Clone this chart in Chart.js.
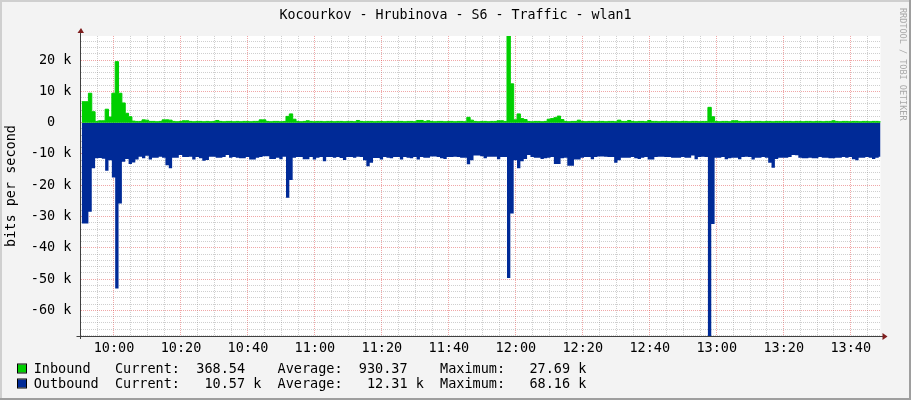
<!DOCTYPE html>
<html lang="en">
<head>
<meta charset="UTF-8">
<title>Kocourkov - Hrubinova - S6 - Traffic - wlan1</title>
<script src="https://cdn.jsdelivr.net/npm/chart.js@4.4.0/dist/chart.umd.min.js"></script>
<style>
    html, body { margin: 0; padding: 0; background: #f3f3f3; }
    canvas { display: block; }
</style>
</head>
<body>
<canvas id="traffic" width="911" height="400"></canvas>
<script>
const graphTitle = 'Kocourkov - Hrubinova - S6 - Traffic - wlan1';
const yAxisTitle = 'bits per second';
const watermark = 'RRDTOOL / TOBI OETIKER';

// graph starts 9:50, one sample per minute, first sample ends 9:50:22
const startHour = 9, startMinute = 50;
const firstSampleEnd = 0.36;
const stepMinutes = 1;
const rangeMinutes = 238.9;

// inbound traffic, kbit/s
const inboundK = [
    6.7, 6.7, 9.4, 3.5, 0.4, 0.6, 0.6, 4.3, 1.8, 9.4,
    19.5, 9.4, 6.3, 3.0, 1.9, 0.5, 0.4, 0.4, 0.9, 0.8,
    0.4, 0.4, 0.3, 0.4, 0.9, 0.9, 0.8, 0.4, 0.3, 0.4,
    0.6, 0.6, 0.4, 0.3, 0.4, 0.4, 0.3, 0.4, 0.3, 0.4,
    0.7, 0.4, 0.3, 0.4, 0.4, 0.3, 0.4, 0.3, 0.4, 0.4,
    0.3, 0.4, 0.4, 0.9, 0.9, 0.4, 0.3, 0.4, 0.4, 0.3,
    0.4, 2.0, 2.8, 1.1, 0.4, 0.3, 0.4, 0.6, 0.4, 0.3,
    0.4, 0.4, 0.3, 0.4, 0.4, 0.3, 0.4, 0.4, 0.3, 0.4,
    0.4, 0.3, 0.7, 0.4, 0.3, 0.4, 0.4, 0.3, 0.4, 0.4,
    0.3, 0.4, 0.4, 0.3, 0.4, 0.4, 0.3, 0.4, 0.4, 0.3,
    0.7, 0.7, 0.4, 0.6, 0.4, 0.3, 0.4, 0.4, 0.3, 0.4,
    0.4, 0.3, 0.4, 0.4, 0.3, 1.7, 0.8, 0.4, 0.3, 0.4,
    0.4, 0.3, 0.4, 0.4, 0.6, 0.6, 0.4, 27.69, 12.4, 0.9,
    2.8, 1.3, 1.0, 0.4, 0.3, 0.4, 0.4, 0.3, 0.4, 1.1,
    1.3, 1.6, 2.1, 1.0, 0.4, 0.3, 0.4, 0.4, 0.8, 0.4,
    0.3, 0.4, 0.4, 0.3, 0.4, 0.4, 0.3, 0.4, 0.4, 0.3,
    0.8, 0.4, 0.4, 0.7, 0.4, 0.3, 0.4, 0.4, 0.3, 0.7,
    0.4, 0.4, 0.3, 0.4, 0.4, 0.3, 0.4, 0.4, 0.3, 0.4,
    0.4, 0.3, 0.4, 0.4, 0.3, 0.4, 0.4, 4.9, 1.9, 0.4,
    0.3, 0.4, 0.4, 0.3, 0.6, 0.6, 0.4, 0.3, 0.4, 0.4,
    0.3, 0.4, 0.4, 0.3, 0.4, 0.4, 0.3, 0.4, 0.4, 0.3,
    0.4, 0.4, 0.3, 0.4, 0.4, 0.3, 0.4, 0.4, 0.3, 0.4,
    0.4, 0.3, 0.4, 0.4, 0.6, 0.4, 0.3, 0.4, 0.4, 0.3,
    0.4, 0.4, 0.3, 0.4, 0.4, 0.3, 0.4, 0.4, 0.3, 0.37
];

// outbound traffic, kbit/s (drawn below zero)
const outboundK = [
    32.2, 32.2, 28.5, 14.6, 11.4, 11.3, 11.5, 15.4, 12.0, 17.5,
    53.0, 25.8, 12.5, 11.6, 13.2, 12.7, 11.8, 10.9, 11.4, 10.6,
    11.8, 11.2, 11.2, 10.9, 11.2, 13.6, 14.6, 11.2, 11.2, 10.3,
    11.0, 11.0, 10.9, 11.8, 11.0, 11.4, 12.2, 11.9, 10.9, 10.9,
    11.2, 11.2, 11.0, 10.3, 11.2, 11.0, 11.2, 11.4, 11.4, 11.0,
    11.8, 11.8, 11.2, 11.0, 10.7, 10.7, 11.6, 11.6, 11.2, 11.7,
    10.9, 24.0, 18.3, 11.2, 11.0, 11.0, 11.7, 11.7, 11.0, 11.8,
    11.2, 11.0, 12.3, 11.0, 11.0, 11.2, 11.0, 11.3, 11.9, 11.0,
    11.0, 11.2, 10.9, 11.0, 12.0, 13.9, 12.8, 11.3, 11.3, 11.8,
    11.0, 11.2, 11.4, 11.0, 11.0, 11.8, 11.0, 11.2, 11.4, 11.0,
    11.8, 11.0, 11.2, 11.2, 10.8, 10.8, 11.0, 11.4, 11.6, 11.0,
    11.0, 10.9, 11.0, 11.2, 11.2, 13.3, 12.0, 10.5, 10.5, 10.7,
    11.4, 10.9, 10.9, 10.9, 11.7, 11.0, 11.0, 49.6, 29.0, 12.0,
    14.6, 12.3, 11.6, 10.3, 11.0, 11.2, 11.2, 11.6, 11.4, 11.2,
    11.0, 13.2, 13.2, 11.4, 11.2, 13.8, 13.8, 11.8, 11.8, 11.2,
    11.0, 11.0, 11.7, 11.0, 10.8, 10.8, 10.9, 11.0, 11.0, 12.8,
    12.0, 11.2, 11.2, 11.2, 11.0, 11.4, 11.6, 11.2, 11.0, 11.8,
    11.8, 11.0, 10.9, 10.9, 11.0, 11.0, 11.2, 11.2, 11.2, 11.0,
    11.2, 11.2, 10.5, 11.7, 11.0, 10.9, 11.0, 68.16, 32.4, 11.2,
    11.2, 11.0, 11.7, 11.4, 11.2, 11.2, 11.7, 11.0, 10.9, 11.0,
    11.8, 11.2, 11.2, 11.0, 11.2, 12.8, 14.4, 11.6, 11.2, 11.2,
    11.2, 11.0, 10.3, 10.4, 11.2, 11.4, 11.4, 11.2, 11.4, 11.4,
    11.0, 11.2, 11.2, 11.4, 11.4, 11.2, 11.2, 11.0, 11.2, 11.0,
    11.7, 12.0, 11.2, 11.2, 11.0, 11.2, 11.6, 11.2, 10.9, 10.57
];

const yMin = -68160, yMax = 27690;
const yGridStep = 2000, yLabelStep = 10000;
const xGridStep = 5, xLabelStep = 20;

const legendNames = ['Inbound', 'Outbound'];
const legendCurrent = ['368.54', '10.57 k'];
const legendAverage = ['930.37', '12.31 k'];
const legendMaximum = ['27.69 k', '68.16 k'];
const seriesColors = ['#00CF00', '#002A97'];

const MONO = '"DejaVu Sans Mono", monospace';

function clock(min) {
    const t = startHour * 60 + startMinute + min;
    const h = Math.floor(t / 60), m = Math.round(t % 60);
    return String(h).padStart(2, '0') + ':' + String(m).padStart(2, '0');
}

function toPoints(values, sign) {
    return values.map((v, i) => ({ x: firstSampleEnd + i * stepMinutes, y: sign * v * 1000 }));
}

// rrdtool style number: value, space, suffix (or blank)
function gprint(s) {
    const parts = s.split(' ');
    return parts[0].padStart(8) + ' ' + (parts[1] || ' ');
}

// grid ticks at whole multiples of the step inside the scale range
function stepTicks(scale, step) {
    const ticks = [];
    for (let v = Math.ceil(scale.min / step) * step; v <= scale.max; v += step) {
        ticks.push({ value: v });
    }
    scale.ticks = ticks;
}

// majors: every 20 minutes from 10:00, every 10 k
const majorX = v => Math.round(startMinute + v) % xLabelStep === 0;
const majorY = v => Math.round(v) % yLabelStep === 0;
const minorGrid = 'rgba(128,128,128,0.38)';
const majorGrid = 'rgba(222,60,60,0.45)';

const rrdLook = {
    id: 'rrdLook',
    beforeDraw(chart) {
        const { ctx, chartArea: a, width, height } = chart;
        ctx.save();
        ctx.fillStyle = '#F3F3F3';
        ctx.fillRect(0, 0, width, height);
        ctx.fillStyle = '#FFFFFF';
        ctx.fillRect(a.left, a.top, a.right - a.left, a.bottom - a.top);
        ctx.restore();
    },
    afterDraw(chart) {
        const { ctx, chartArea: a, width, height } = chart;
        ctx.save();

        // axes
        ctx.fillStyle = '#404040';
        ctx.fillRect(Math.floor(a.left), a.top - 4, 1, a.bottom - a.top + 7);
        ctx.fillRect(a.left - 4, Math.floor(a.bottom), a.right - a.left + 8, 1);
        ctx.fillStyle = '#7F1F1F';
        ctx.beginPath();
        ctx.moveTo(a.left - 3, a.top - 3);
        ctx.lineTo(a.left + 3.5, a.top - 3);
        ctx.lineTo(a.left + 0.5, a.top - 8);
        ctx.fill();
        ctx.beginPath();
        ctx.moveTo(a.right + 2, a.bottom - 3);
        ctx.lineTo(a.right + 2, a.bottom + 4);
        ctx.lineTo(a.right + 7, a.bottom + 0.5);
        ctx.fill();

        // title
        ctx.fillStyle = '#000';
        ctx.textBaseline = 'alphabetic';
        ctx.textAlign = 'center';
        ctx.font = '13.3px ' + MONO;
        ctx.fillText(graphTitle, width / 2, 19);

        // y axis title
        ctx.save();
        ctx.translate(15, (a.top + a.bottom) / 2);
        ctx.rotate(-Math.PI / 2);
        ctx.font = '13.5px ' + MONO;
        ctx.fillText(yAxisTitle, 0, 0);
        ctx.restore();

        // watermark
        ctx.save();
        ctx.translate(900, 8);
        ctx.rotate(Math.PI / 2);
        ctx.textAlign = 'left';
        ctx.fillStyle = '#A8A8A8';
        ctx.font = '8.5px ' + MONO;
        ctx.fillText(watermark, 0, 0);
        ctx.restore();

        // legend
        ctx.textAlign = 'left';
        ctx.font = '13.5px ' + MONO;
        legendNames.forEach((name, i) => {
            const base = 373 + i * 15;
            ctx.fillStyle = seriesColors[i];
            ctx.fillRect(18, base - 8.5, 8, 8);
            ctx.strokeStyle = '#000';
            ctx.lineWidth = 1;
            ctx.strokeRect(17.5, base - 9, 9, 9);
            const row = name.padEnd(10) + 'Current:' + gprint(legendCurrent[i]) + '  ' +
                'Average:' + gprint(legendAverage[i]) + '  ' + 'Maximum:' + gprint(legendMaximum[i]);
            ctx.fillStyle = '#000';
            ctx.fillText(row, 33.7, base);
        });

        // frame
        ctx.fillStyle = '#CFCFCF';
        ctx.fillRect(0, 0, width, 2);
        ctx.fillRect(0, 0, 2, height);
        ctx.fillStyle = '#9E9E9E';
        ctx.fillRect(0, height - 2, width, 2);
        ctx.fillRect(width - 2, 0, 2, height);
        ctx.restore();
    }
};

new Chart(document.getElementById('traffic'), {
    type: 'line',
    data: {
        datasets: [{
            label: 'Inbound',
            data: toPoints(inboundK, 1),
            stepped: 'before',
            fill: 'origin',
            backgroundColor: seriesColors[0],
            borderColor: seriesColors[0],
            borderWidth: 1,
            pointRadius: 0
        }, {
            label: 'Outbound',
            data: toPoints(outboundK, -1),
            stepped: 'before',
            fill: 'origin',
            backgroundColor: seriesColors[1],
            borderColor: seriesColors[1],
            borderWidth: 0,
            pointRadius: 0
        }]
    },
    options: {
        responsive: false,
        animation: false,
        events: [],
        layout: { padding: { top: 36, right: 30.5, left: 0, bottom: 0 } },
        plugins: { legend: { display: false }, tooltip: { enabled: false } },
        scales: {
            x: {
                type: 'linear',
                min: 0,
                max: rangeMinutes,
                z: 1,
                afterFit(s) { s.height = 64; },
                afterBuildTicks(s) { stepTicks(s, xGridStep); },
                border: { display: false, dash: [1, 1] },
                grid: {
                    drawTicks: false,
                    lineWidth: 1,
                    color: c => (c.tick && majorX(c.tick.value)) ? majorGrid : minorGrid
                },
                ticks: {
                    autoSkip: false,
                    maxRotation: 0,
                    minRotation: 0,
                    padding: 4,
                    color: '#000',
                    font: { family: MONO, size: 13.5 },
                    callback: v => majorX(v) ? clock(v) : ''
                }
            },
            y: {
                min: yMin,
                max: yMax,
                z: 1,
                afterFit(s) { s.width = 80.5; },
                afterBuildTicks(s) { stepTicks(s, yGridStep); },
                border: { display: false, dash: [1, 1] },
                grid: {
                    drawTicks: false,
                    lineWidth: 1,
                    color: c => (c.tick && majorY(c.tick.value)) ? majorGrid : minorGrid
                },
                ticks: {
                    autoSkip: false,
                    padding: 9,
                    color: '#000',
                    font: { family: MONO, size: 13.5 },
                    callback: v => majorY(v) ? (v === 0 ? '0  ' : (v / 1000) + ' k') : ''
                }
            }
        }
    },
    plugins: [rrdLook]
});
</script>
</body>
</html>
